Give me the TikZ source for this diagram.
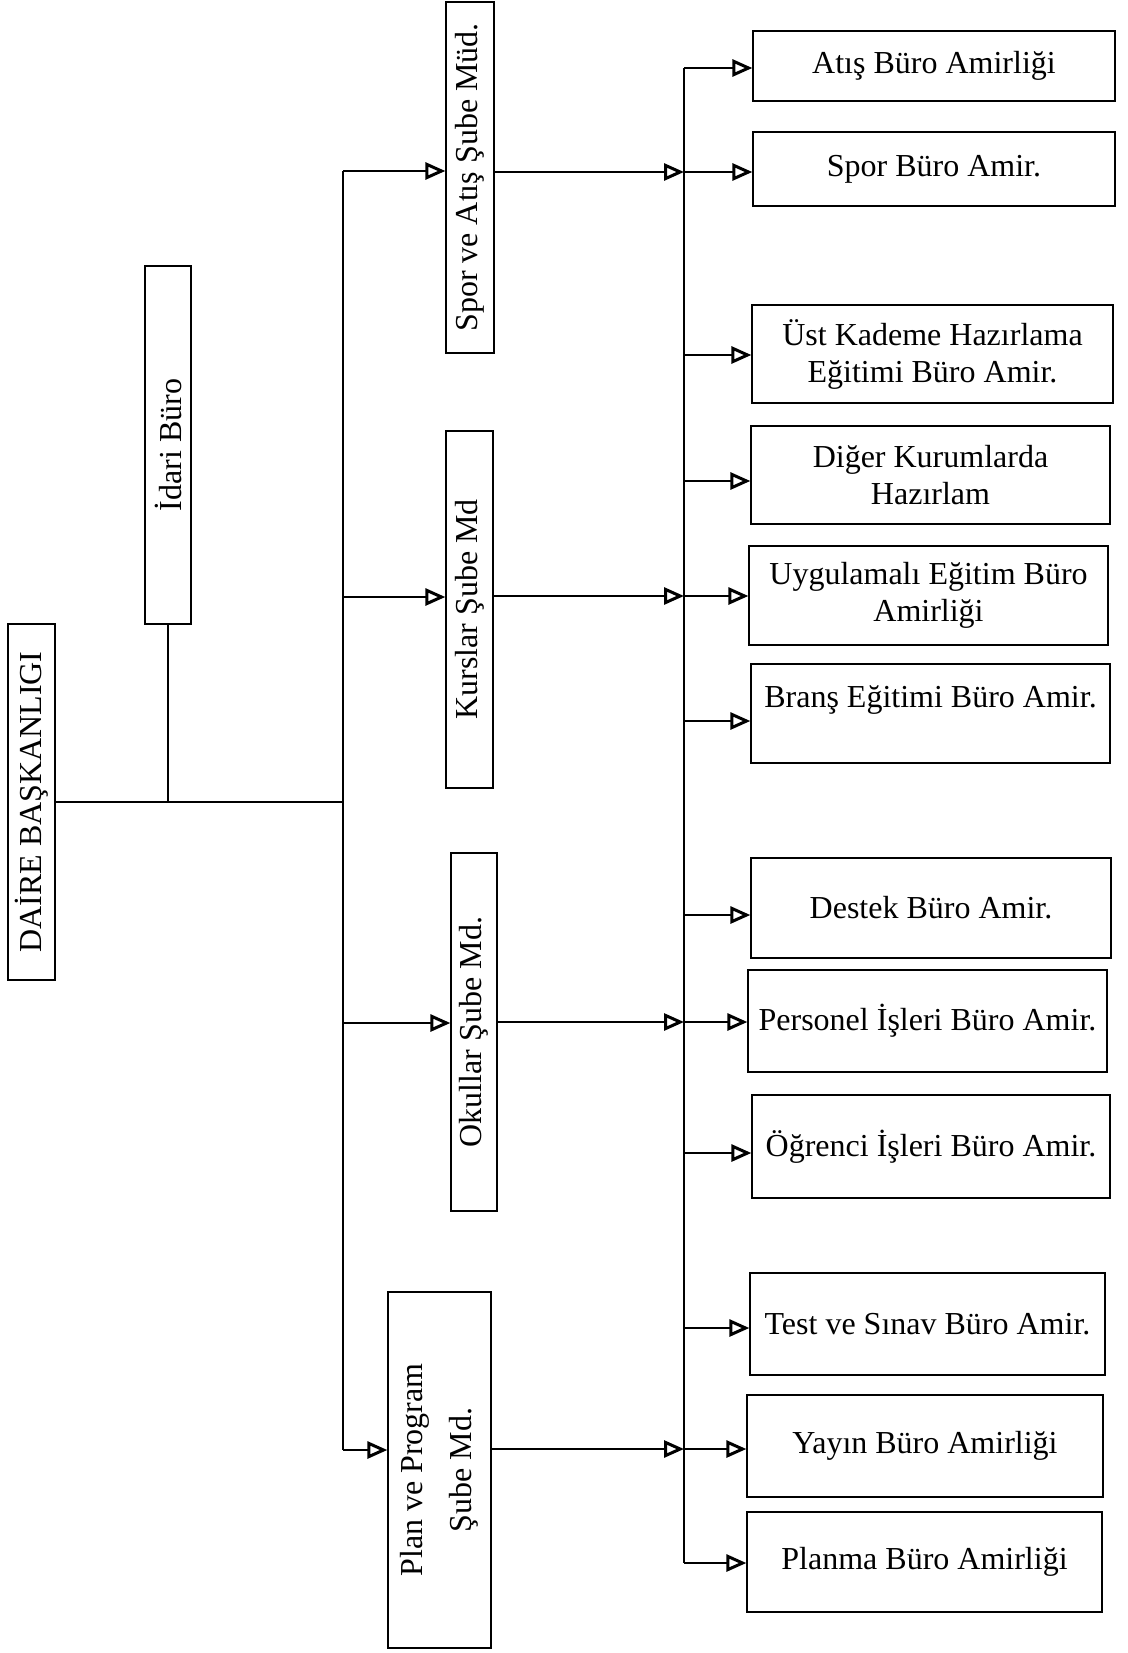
\documentclass[tikz,border=0pt]{standalone}
\usepackage{fontspec}
\setmainfont{Liberation Serif}
\usetikzlibrary{arrows.meta}
\begin{document}
\begin{tikzpicture}[x=1pt,y=-1pt,
  txt/.style={font=\fontsize{32}{37}\selectfont,align=center,inner sep=0pt},
  box/.style={txt,draw,line width=1.3pt},
  vbox/.style={box,rotate=90},
  conn/.style={line width=1.4pt},
  arr/.style={conn,-{Triangle[open,length=20pt,width=17pt,line width=3pt]}}]
\useasboundingbox (0,0) rectangle (1127,1653);
\fill[white] (0,0) rectangle (1127,1653);

% left column
\node[vbox,minimum width=356pt,minimum height=47pt] (daire) at (31.5,802) {DAİRE BAŞKANLIGI};
\node[vbox,minimum width=358pt,minimum height=46pt] (idari) at (168,445) {İdari Büro};

% sub-managers
\node[vbox,minimum width=351pt,minimum height=48pt] (spor) at (470,177.5) {Spor ve Atış Şube Müd.};
\node[vbox,minimum width=357pt,minimum height=47pt] (kurs) at (469.5,609.5) {Kurslar Şube Md};
\node[vbox,minimum width=358pt,minimum height=46pt] (okul) at (474,1032) {Okullar Şube Md.};
\node[vbox,minimum width=356pt,minimum height=103pt,font=\fontsize{32}{49}\selectfont] (plan) at (439.5,1470) {Plan ve Program\\Şube Md.};

% offices
\node[box,minimum width=362pt,minimum height=70pt] (b1) at (934,66) {Atış Büro Amirliği};
\node[box,minimum width=362pt,minimum height=74pt] (b2) at (934,169) {Spor Büro Amir.};
\node[box,minimum width=361pt,minimum height=98pt] (b3) at (932.5,354) {Üst Kademe Hazırlama\\Eğitimi Büro Amir.};
\node[box,minimum width=359pt,minimum height=98pt] (b4) at (930.5,475) {Diğer Kurumlarda\\Hazırlam};
\node[box,minimum width=359pt,minimum height=99pt] (b5) at (928.5,595.5) {Uygulamalı Eğitim Büro\\Amirliği};
\node[box,minimum width=359pt,minimum height=99pt] (b6) at (930.5,713.5) {};
\node[txt] (b6t) at (930.5,700) {Branş Eğitimi Büro Amir.};
\node[box,minimum width=360pt,minimum height=100pt] (b7) at (931,908) {Destek Büro Amir.};
\node[box,minimum width=359pt,minimum height=102pt] (b8) at (927.5,1021) {Personel İşleri Büro Amir.};
\node[box,minimum width=358pt,minimum height=103pt] (b9) at (931,1146.5) {Öğrenci İşleri Büro Amir.};
\node[box,minimum width=355pt,minimum height=102pt] (b10) at (927.5,1324) {Test ve Sınav Büro Amir.};
\node[box,minimum width=356pt,minimum height=102pt] (b11) at (925,1446) {Yayın Büro Amirliği};
\node[box,minimum width=355pt,minimum height=100pt] (b12) at (924.5,1562) {Planma Büro Amirliği};

% left trunk
\coordinate (m1) at (343,171);
\coordinate (m2) at (343,597);
\coordinate (m3) at (343,1023);
\coordinate (m4) at (343,1450);
\draw[conn] (m1) -- (m4);
\draw[conn] (daire.south) -- (daire.south -| m1);
\draw[conn] (idari.west) -- (idari.west |- daire.south);
\draw[arr] (m1) -- (m1 -| spor.north);
\draw[arr] (m2) -- (m2 -| kurs.north);
\draw[arr] (m3) -- (m3 -| okul.north);
\draw[arr] (m4) -- (m4 -| plan.north);

% right trunk
\coordinate (r1) at (684,68);
\coordinate (r2) at (684,172);
\coordinate (r3) at (684,355);
\coordinate (r4) at (684,481);
\coordinate (r5) at (684,596);
\coordinate (r6) at (684,721);
\coordinate (r7) at (684,915);
\coordinate (r8) at (684,1022);
\coordinate (r9) at (684,1153);
\coordinate (r10) at (684,1328);
\coordinate (r11) at (684,1449);
\coordinate (r12) at (684,1563);
\draw[conn] (r1) -- (r12);
\draw[arr] (spor.south |- r2) -- (r2);
\draw[arr] (kurs.south |- r5) -- (r5);
\draw[arr] (okul.south |- r8) -- (r8);
\draw[arr] (plan.south |- r11) -- (r11);
\foreach \i in {1,...,12}{
  \draw[arr] (r\i) -- (r\i -| b\i.west);
}
\end{tikzpicture}
\end{document}
